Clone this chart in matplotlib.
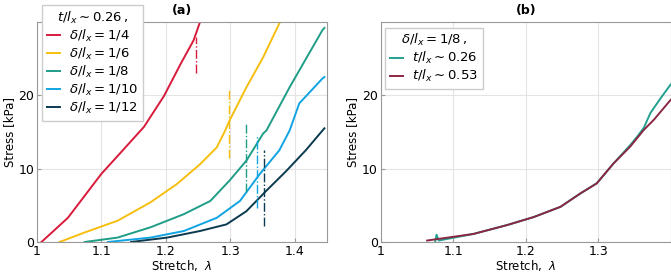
import numpy as np
import matplotlib
matplotlib.use("Agg")
import matplotlib.pyplot as plt

RED = "#d81b3c"; YEL = "#f6bf0f"; TEAL = "#1f9d87"; BLUE = "#10a4e2"; NAVY = "#0b3a4f"
TEAL2 = "#23a08f"; MAROON = "#8a2843"

# ---- (a) t/l_x ~ 0.26, different delta/l_x ----
lam_14 = [1.007, 1.048, 1.074, 1.100, 1.130, 1.166, 1.197, 1.223, 1.243, 1.253]
s_14 = [0.0, 3.3, 6.3, 9.3, 12.2, 15.7, 19.9, 24.3, 27.5, 30.0]
lam_16 = [1.035, 1.074, 1.125, 1.176, 1.217, 1.253, 1.279, 1.292, 1.299, 1.325, 1.351, 1.376]
s_16 = [0.0, 1.3, 2.9, 5.4, 7.9, 10.6, 12.9, 15.2, 16.6, 21.1, 25.2, 29.8]
lam_18 = [1.074, 1.125, 1.176, 1.228, 1.269, 1.299, 1.325, 1.351, 1.356, 1.392, 1.443, 1.446]
s_18 = [0.0, 0.6, 2.0, 3.8, 5.6, 8.4, 11.1, 14.8, 15.2, 21.1, 28.9, 29.2]
lam_110 = [1.110, 1.176, 1.228, 1.279, 1.315, 1.346, 1.376, 1.392, 1.407, 1.443, 1.446]
s_110 = [0.0, 0.6, 1.5, 3.3, 5.6, 9.3, 12.5, 15.2, 18.9, 22.3, 22.5]
lam_112 = [1.146, 1.202, 1.253, 1.294, 1.325, 1.356, 1.387, 1.417, 1.443, 1.446]
s_112 = [0.0, 0.6, 1.5, 2.4, 4.2, 7.0, 9.7, 12.5, 15.2, 15.5]
labels_a = [r"$\delta/l_x = 1/4$", r"$\delta/l_x = 1/6$", r"$\delta/l_x = 1/8$",
            r"$\delta/l_x = 1/10$", r"$\delta/l_x = 1/12$"]
# dash-dot markers: (stretch, stress bottom, stress top)
mark_lam = [1.247, 1.298, 1.325, 1.342, 1.352]
mark_lo = [23.0, 11.4, 6.8, 4.7, 2.2]
mark_hi = [28.0, 21.0, 16.2, 14.5, 12.5]

# ---- (b) delta/l_x = 1/8, different t/l_x ----
lam_t26 = [1.075, 1.077, 1.080, 1.128, 1.174, 1.211, 1.248, 1.275, 1.298, 1.321, 1.344, 1.354, 1.363, 1.372, 1.386, 1.400]
s_t26 = [0.0, 1.0, 0.2, 1.1, 2.3, 3.4, 4.8, 6.6, 8.0, 10.7, 13.2, 14.4, 15.6, 17.6, 19.6, 21.5]
lam_t53 = [1.064, 1.128, 1.174, 1.211, 1.248, 1.275, 1.298, 1.321, 1.344, 1.363, 1.377, 1.400]
s_t53 = [0.2, 1.1, 2.3, 3.4, 4.8, 6.6, 8.0, 10.7, 13.0, 15.3, 16.7, 19.4]

plt.rcParams["font.size"] = 9

fig = plt.figure(figsize=(6.71, 2.76), dpi=100)
axa = fig.add_axes([0.0551, 0.1232, 0.4322, 0.797])
axb = fig.add_axes([0.5674, 0.1232, 0.4322, 0.797])

cols = [RED, YEL, TEAL, BLUE, NAVY]
for lam, s, c, lab in zip([lam_14, lam_16, lam_18, lam_110, lam_112],
                          [s_14, s_16, s_18, s_110, s_112], cols, labels_a):
    axa.plot(lam, s, color=c, lw=1.4, label=lab)
for x, lo, hi, c in zip(mark_lam, mark_lo, mark_hi, cols):
    axa.plot([x, x], [lo, hi], color=c, lw=1.0, ls="-.")

axb.plot(lam_t26, s_t26, color=TEAL2, lw=1.4, label=r"$t/l_x \sim 0.26$")
axb.plot(lam_t53, s_t53, color=MAROON, lw=1.4, label=r"$t/l_x \sim 0.53$")

for ax, xl, xt in [(axa, 1.45, [1, 1.1, 1.2, 1.3, 1.4]), (axb, 1.4, [1, 1.1, 1.2, 1.3])]:
    ax.set_xlim(1, xl); ax.set_ylim(0, 30)
    ax.set_xticks(xt); ax.set_xticklabels([f"{v:g}" for v in xt])
    ax.set_yticks([0, 10, 20])
    ax.grid(color="#e4e4e4", lw=0.8)
    ax.set_axisbelow(True)
    ax.tick_params(direction="in", length=3, color="#999999", pad=2, labelsize=9)
    for sp in ax.spines.values():
        sp.set_color("#999999")
    ax.set_xlabel(r"Stretch,  $\lambda$", labelpad=0, fontsize=8.5)
    ax.set_ylabel("Stress [kPa]", labelpad=2, fontsize=8.5)

axa.set_title("(a)", fontweight="bold", fontsize=9, pad=6)
axb.set_title("(b)", fontweight="bold", fontsize=9, pad=6)

la = axa.legend(title=r"$t/l_x \sim 0.26\,,$", loc="upper left", bbox_to_anchor=(0.017, 1.078),
                handlelength=1.0, labelspacing=0.15, fancybox=False, edgecolor="#cccccc",
                framealpha=1, borderpad=0.35, handletextpad=0.7, borderaxespad=0,
                fontsize=9.5)
la.get_title().set_fontsize(9.5)
la.set_zorder(5)
lb = axb.legend(title=r"$\delta/l_x = 1/8\,,$", loc="upper left", bbox_to_anchor=(0.015, 0.975),
                handlelength=1.0, labelspacing=0.15, fancybox=False, edgecolor="#cccccc",
                framealpha=1, borderpad=0.35, handletextpad=0.7, borderaxespad=0,
                fontsize=9.5)
lb.get_title().set_fontsize(9.5)

fig.savefig("out.png", dpi=100, facecolor="white")
